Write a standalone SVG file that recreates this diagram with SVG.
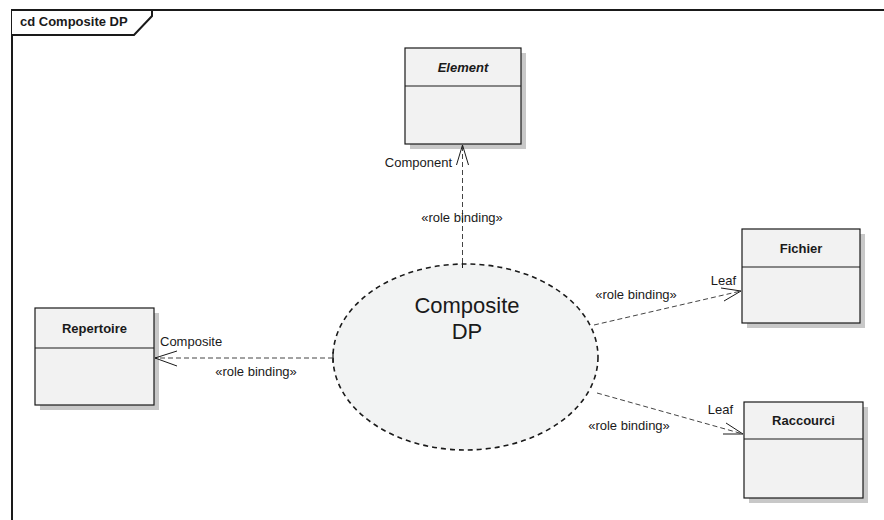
<svg xmlns="http://www.w3.org/2000/svg" width="884" height="520" viewBox="0 0 884 520">
<style>
text{font-family:"Liberation Sans",Arial,sans-serif;fill:#1a1a1a}
.shadow{fill:#c8c8c8}
.box{fill:#f2f2f2;stroke:#1a1a1a;stroke-width:1.2}
.div{stroke:#1a1a1a;stroke-width:1.2}
.name{font-size:13px;font-weight:bold;text-anchor:middle}
.lbl{font-size:13px}
.conn{fill:none;stroke:#444;stroke-width:1;stroke-dasharray:5,3}
.head{fill:none;stroke:#1a1a1a;stroke-width:1}
</style>
<rect width="884" height="520" fill="#fff"/>
<g id="frame">
<path d="M12,520 V10 H884" fill="none" stroke="#1a1a1a" stroke-width="2"/>
<path d="M12,10 H152 V16 L134,35 H12" fill="#fff" stroke="#1a1a1a" stroke-width="2"/>
<text x="20" y="26" style="font-size:13px;font-weight:bold">cd Composite DP</text>
</g>
<g id="element">
<rect class="shadow" x="410" y="53" width="116" height="96"/>
<rect class="box" x="405" y="48" width="116" height="96"/>
<line class="div" x1="405" y1="86" x2="521" y2="86"/>
<text class="name" x="463" y="72" font-style="italic">Element</text>
</g>
<g id="repertoire">
<rect class="shadow" x="40" y="313" width="119" height="97"/>
<rect class="box" x="35" y="308" width="119" height="97"/>
<line class="div" x1="35" y1="348" x2="154" y2="348"/>
<text class="name" x="94.5" y="333">Repertoire</text>
</g>
<g id="fichier">
<rect class="shadow" x="747" y="234" width="118" height="94"/>
<rect class="box" x="742" y="229" width="118" height="94"/>
<line class="div" x1="742" y1="267" x2="860" y2="267"/>
<text class="name" x="801" y="253">Fichier</text>
</g>
<g id="raccourci">
<rect class="shadow" x="749" y="407" width="119" height="96"/>
<rect class="box" x="744" y="402" width="119" height="96"/>
<line class="div" x1="744" y1="439" x2="863" y2="439"/>
<text class="name" x="803.5" y="425">Raccourci</text>
</g>
<g id="compositeDP">
<ellipse cx="465.5" cy="357" rx="132.5" ry="93" fill="#f2f3f3" stroke="#1a1a1a" stroke-width="1.6" stroke-dasharray="5,4"/>
<line x1="333" y1="352" x2="333" y2="363" stroke="#1a1a1a" stroke-width="1.2"/>
<line x1="462.5" y1="259" x2="462.5" y2="268" stroke="#1a1a1a" stroke-width="1"/>
<text x="467" y="313" style="font-size:22px;text-anchor:middle">Composite</text>
<text x="467" y="339" style="font-size:22px;text-anchor:middle">DP</text>
</g>
<g id="connectors">
<line class="conn" x1="462.5" y1="263" x2="462.5" y2="145"/>
<polyline class="head" points="456.5,165 462.5,145 468.5,165"/>
<text class="lbl" x="452" y="167" text-anchor="end">Component</text>
<text class="lbl" x="462" y="222" text-anchor="middle">«role binding»</text>

<line class="conn" x1="333" y1="358" x2="155" y2="358"/>
<polyline class="head" points="177,351 155,358 177,366"/>
<text class="lbl" x="160" y="346">Composite</text>
<text class="lbl" x="256" y="376" text-anchor="middle">«role binding»</text>

<line class="conn" x1="594" y1="325" x2="741" y2="291"/>
<polyline class="head" points="721,288 741,291 724,301"/>
<text class="lbl" x="736" y="285" text-anchor="end">Leaf</text>
<text class="lbl" x="636" y="299" text-anchor="middle">«role binding»</text>

<line class="conn" x1="597" y1="393" x2="743" y2="434"/>
<polyline class="head" points="726,423 743,434 723,434"/>
<text class="lbl" x="733" y="414" text-anchor="end">Leaf</text>
<text class="lbl" x="629" y="430" text-anchor="middle">«role binding»</text>
</g>
</svg>
